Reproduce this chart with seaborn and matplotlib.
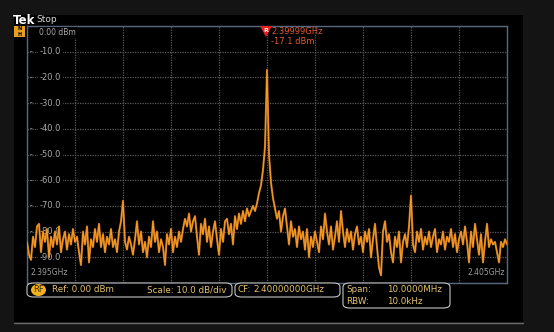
import numpy as np
import pandas as pd
import matplotlib
matplotlib.use("Agg")
import matplotlib.pyplot as plt
from matplotlib.patches import Rectangle, FancyBboxPatch, Ellipse, Polygon
import seaborn as sns

# ---- data ----
start_ghz = 2.395
stop_ghz = 2.405
level_dbm = [
    # 2.395 .. ~2.3967
    -84, -89, -91, -82, -86, -78, -77, -88, -80, -84, -79, -90, -82, -86, -80, -85, -78, -88, -83, -80,
    -87, -81, -85, -79, -84, -82, -88, -93, -80, -85, -78, -92, -83, -86, -79, -84, -77, -86, -81, -88,
    # ~2.3967 .. ~2.3983
    -82, -85, -79, -86, -83, -88, -80, -76, -68, -84, -87, -82, -85, -89, -83, -76, -85, -80, -88, -84,
    -90, -82, -86, -76, -84, -80, -88, -83, -86, -93, -81, -85, -79, -88, -82, -86, -80, -84, -79, -75,
    # ~2.3983 .. ~2.39996
    -78, -73, -80, -76, -74, -82, -89, -77, -81, -75, -84, -78, -86, -80, -76, -83, -89, -79, -84, -76,
    -75, -81, -77, -85, -74, -79, -73, -77, -72, -76, -71, -74, -72, -70, -72, -69, -65, -62, -56, -47,
    # carrier
    -17.1,
    # ~2.40004 .. ~2.4017
    -50, -61, -67, -71, -75, -72, -80, -74, -71, -78, -85, -76, -82, -79, -86, -78, -83, -80, -87, -79,
    -90, -82, -86, -80, -84, -88, -78, -83, -73, -80, -85, -78, -87, -82, -76, -84, -72, -80, -86, -79,
    # ~2.4017 .. ~2.4033
    -84, -80, -87, -81, -78, -85, -82, -88, -80, -84, -79, -90, -83, -77, -86, -94, -97, -80, -76, -84,
    -81, -88, -92, -82, -86, -80, -92, -84, -81, -86, -78, -66, -85, -88, -80, -84, -79, -87, -82, -85,
    # ~2.4033 .. 2.405
    -80, -86, -82, -79, -88, -83, -85, -80, -87, -82, -84, -79, -86, -81, -88, -83, -80, -85, -78, -84,
    -92, -80, -86, -77, -83, -89, -81, -92, -84, -77, -86, -83, -85, -84, -88, -92, -84, -86, -83, -85,
]
freq_ghz = np.linspace(start_ghz, stop_ghz, len(level_dbm))
ylabels = ["-10.0", "-20.0", "-30.0", "-40.0", "-50.0", "-60.0", "-70.0", "-80.0", "-90.0"]
ylevels = [-10, -20, -30, -40, -50, -60, -70, -80, -90]
marker_freq = "2.39999GHz"
marker_level = "-17.1 dBm"

df = pd.DataFrame({"freq": freq_ghz, "level": level_dbm})

# ---- figure ----
W, H = 554, 332
sns.set_theme(style="dark")
plt.rcParams["font.family"] = ["DejaVu Sans"]
fig = plt.figure(figsize=(W / 100, H / 100), dpi=100)
fig.patch.set_facecolor("#141414")


def fx(px):
    return px / W


def fy(py):
    return 1 - py / H


# black screen area
fig.patches.append(Rectangle((fx(14), fy(322)), fx(523) - fx(14), fy(15) - fy(322),
                             transform=fig.transFigure, facecolor="black", edgecolor="none", zorder=-5))
fig.lines.append(plt.Line2D([fx(14), fx(523)], [fy(323), fy(323)], transform=fig.transFigure,
                            color="#6a6a6a", lw=1, zorder=-4))

L, R, T, B = 27, 507, 26, 283
ax = fig.add_axes([fx(L), fy(B), fx(R) - fx(L), fy(T) - fy(B)])
ax.set_zorder(1)
ax.set_facecolor("black")
ax.set_xlim(start_ghz, stop_ghz)
ax.set_ylim(-100, 0)
ax.set_xticks(np.linspace(start_ghz, stop_ghz, 11))
ax.set_yticks(np.arange(-100, 1, 10))
ax.set_xticklabels([])
ax.set_yticklabels([])
ax.tick_params(length=0)
ax.grid(True, color="#5a5a5a", linestyle=(0, (1, 1)), linewidth=0.9)
for s in ax.spines.values():
    s.set_color("#56677f")
    s.set_linewidth(1.0)

trans = matplotlib.transforms.blended_transform_factory(ax.transAxes, ax.transData)
for lab, lv in zip(ylabels, ylevels):
    ax.text(0.006, lv, "-", transform=trans, color="#9a9a9a", fontsize=5.5, va="center", ha="left", zorder=3)
    ax.text(0.026, lv, lab, transform=trans, color="#a8a8a8", fontsize=6, va="center", ha="left",
            zorder=3, bbox=dict(facecolor="black", edgecolor="none", pad=1.2))
ax.text(0.026, -2.5, "0.00 dBm", transform=trans, color="#a8a8a8", fontsize=5.5, va="center", ha="left",
        zorder=3, bbox=dict(facecolor="black", edgecolor="none", pad=0.8))

# trace
sns.lineplot(data=df, x="freq", y="level", ax=ax, color="#b8701e", linewidth=1.5, zorder=4, legend=False)
sns.lineplot(data=df, x="freq", y="level", ax=ax, color="#ff9c22", linewidth=0.7, zorder=5, legend=False)
ax.set_xlabel("")
ax.set_ylabel("")
ax.set_xlim(start_ghz, stop_ghz)
ax.set_ylim(-100, 0)

# freq labels
ax.text(0.007, 0.025, "2.395GHz", transform=ax.transAxes, color="#9a9a9a", fontsize=5.5, ha="left", va="bottom",
        zorder=6)
ax.text(0.996, 0.025, "2.405GHz", transform=ax.transAxes, color="#9a9a9a", fontsize=5.5, ha="right",
        va="bottom", zorder=6)

# header
fig.text(fx(13), fy(20), "Tek", color="white", fontsize=8.5, fontweight="bold", va="center", ha="left")
fig.text(fx(36), fy(20), "Stop", color="#d8d8d8", fontsize=6.5, va="center", ha="left")

# NH badge
fig.patches.append(Rectangle((fx(14), fy(37)), fx(11), fy(26) - fy(37), transform=fig.transFigure,
                             facecolor="#e8a020", edgecolor="none", zorder=2))
fig.text(fx(19.5), fy(29), "N", color="black", fontsize=3.5, ha="center", va="center", fontweight="bold", zorder=3)
fig.text(fx(19.5), fy(34.5), "H", color="black", fontsize=3.5, ha="center", va="center", fontweight="bold", zorder=3)

# marker
fig.patches.append(Polygon([[fx(260), fy(26)], [fx(272), fy(26)], [fx(266), fy(37)]], closed=True,
                           transform=fig.transFigure, facecolor="#e8201e", edgecolor="none", zorder=6))
fig.text(fx(266), fy(30), "R", color="white", fontsize=4.5, ha="center", va="center", fontweight="bold", zorder=7)
fig.text(fx(271), fy(32), marker_freq, color="#dd5a2e", fontsize=6, ha="left", va="center", zorder=7)
fig.text(fx(271), fy(41), marker_level, color="#dd5a2e", fontsize=6, ha="left", va="center", zorder=7)

# bottom readouts
txtc = "#e3c26a"


def box(x0, y0, x1, y1):
    fig.patches.append(FancyBboxPatch((fx(x0), fy(y1)), fx(x1) - fx(x0), fy(y0) - fy(y1),
                                      boxstyle="round,pad=0,rounding_size=0.012",
                                      transform=fig.transFigure, facecolor="black", edgecolor="#c4c4c4",
                                      lw=0.8, zorder=3))


box(27, 283, 232, 297)
box(235, 283, 340, 297)
box(343, 283, 450, 308)
fig.patches.append(Ellipse((fx(38.5), fy(290)), fx(15), fy(284) - fy(296), transform=fig.transFigure,
                           facecolor="#f2b21e", edgecolor="none", zorder=4))
fig.text(fx(38.5), fy(290), "RF", color="#3a2a00", fontsize=6, ha="center", va="center", zorder=5)
fig.text(fx(52), fy(290), "Ref: 0.00 dBm", color=txtc, fontsize=6.3, ha="left", va="center", zorder=5)
fig.text(fx(147), fy(290), "Scale: 10.0 dB/div", color=txtc, fontsize=6.3, ha="left", va="center", zorder=5)
fig.text(fx(238), fy(290), "CF:", color=txtc, fontsize=6.3, ha="left", va="center", zorder=5)
fig.text(fx(253), fy(290), "2.40000000GHz", color=txtc, fontsize=6.3, ha="left", va="center", zorder=5)
fig.text(fx(346), fy(290), "Span:", color=txtc, fontsize=6.3, ha="left", va="center", zorder=5)
fig.text(fx(387), fy(290), "10.0000MHz", color=txtc, fontsize=6.3, ha="left", va="center", zorder=5)
fig.text(fx(346), fy(301), "RBW:", color=txtc, fontsize=6.3, ha="left", va="center", zorder=5)
fig.text(fx(387), fy(301), "10.0kHz", color=txtc, fontsize=6.3, ha="left", va="center", zorder=5)

fig.savefig("out.png", dpi=100, facecolor=fig.get_facecolor())
